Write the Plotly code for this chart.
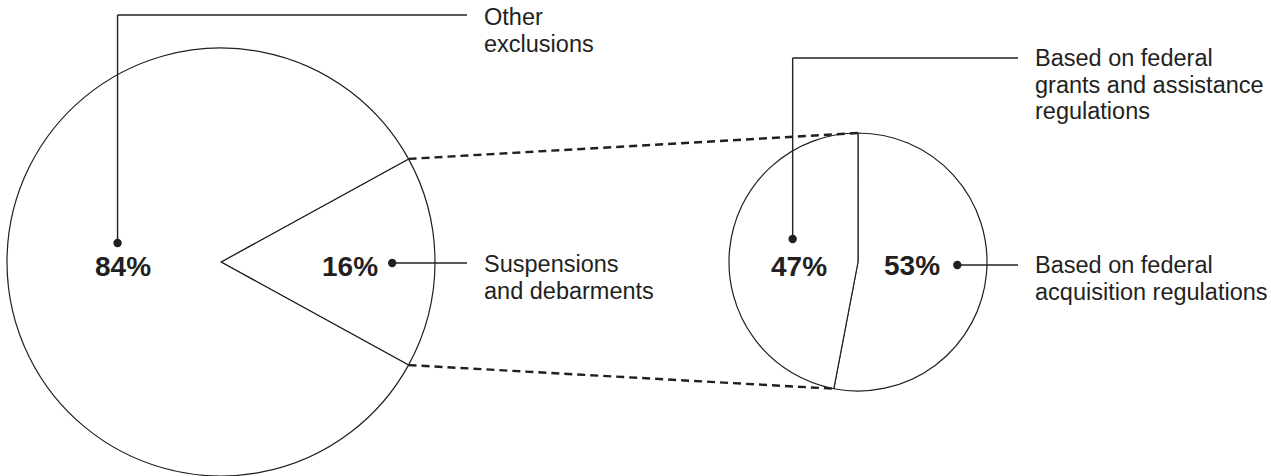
import math
import plotly.graph_objects as go

# ---------------- data ----------------
main_labels = ["Suspensions and debarments", "Other exclusions"]
main_values = [16, 84]
sub_labels = ["Based on federal acquisition regulations",
              "Based on federal grants and assistance regulations"]
sub_values = [53, 47]

main_label_lines = [["Suspensions", "and debarments"], ["Other", "exclusions"]]
sub_label_lines = [["Based on federal", "acquisition regulations"],
                   ["Based on federal", "grants and assistance", "regulations"]]

# ---------------- layout constants (pixels) ----------------
W, H = 1271, 476
BIG = dict(cx=221, cy=262, r=214)
SMALL = dict(cx=858, cy=262, r=129)
INK = "#231f20"
FONT = "Liberation Sans, Arial, Helvetica, sans-serif"
LABEL_SIZE = 23.5
PCT_SIZE = 28
LINE_GAP = 26.5
TEXT_X_LEFT = 482      # label column for left pie
TEXT_X_RIGHT = 1033    # label column for right pie


def px(x):
    return x / W


def py(y):
    return 1 - y / H


def domain(g):
    return dict(x=[px(g["cx"] - g["r"]), px(g["cx"] + g["r"])],
                y=[py(g["cy"] + g["r"]), py(g["cy"] - g["r"])])


def boundary_angles(values, rotation):
    tot = sum(values)
    angs, acc = [rotation], 0
    for v in values:
        acc += v
        angs.append(rotation + acc / tot * 360)
    return angs


def point(g, theta):
    t = math.radians(theta)
    return g["cx"] + g["r"] * math.sin(t), g["cy"] - g["r"] * math.cos(t)


big_rot = 90 - main_values[0] / sum(main_values) * 360 / 2
small_rot = 0

fig = go.Figure()
fig.add_trace(go.Pie(values=main_values, labels=main_labels, sort=False,
                     direction="clockwise", rotation=big_rot,
                     marker=dict(colors=["white", "white"], line=dict(color=INK, width=1.2)),
                     textinfo="none", hoverinfo="label+percent",
                     domain=domain(BIG), showlegend=False))
fig.add_trace(go.Pie(values=sub_values, labels=sub_labels, sort=False,
                     direction="clockwise", rotation=small_rot,
                     marker=dict(colors=["white", "white"], line=dict(color=INK, width=1.2)),
                     textinfo="none", hoverinfo="label+percent",
                     domain=domain(SMALL), showlegend=False))

shapes, annotations = [], []


def line(x0, y0, x1, y1, width=1.4, dash=None):
    d = dict(type="line", xref="paper", yref="paper", x0=px(x0), y0=py(y0),
             x1=px(x1), y1=py(y1), line=dict(color=INK, width=width), layer="above")
    if dash:
        d["line"]["dash"] = dash
    shapes.append(d)


def dot(x, y, rad=4.2):
    shapes.append(dict(type="circle", xref="paper", yref="paper",
                       x0=px(x - rad), x1=px(x + rad), y0=py(y + rad), y1=py(y - rad),
                       fillcolor=INK, line=dict(color=INK, width=0), layer="above"))


def text(x, y, s, size, anchor="left", bold=False):
    annotations.append(dict(xref="paper", yref="paper", x=px(x), y=py(y),
                            text=f"<b>{s}</b>" if bold else s, showarrow=False,
                            xanchor=anchor, yanchor="middle",
                            font=dict(family=FONT, size=size, color=INK)))


def label_block(x, y_first, lines):
    for i, s in enumerate(lines):
        text(x, y_first + i * LINE_GAP, s, LABEL_SIZE)


# dashed connectors between slice boundaries
bang = boundary_angles(main_values, big_rot)
sang = boundary_angles(sub_values, small_rot)
for bt, st in [(bang[0], sang[0]), (bang[1], sang[1])]:
    x0, y0 = point(BIG, bt)
    x1, y1 = point(SMALL, st)
    line(x0, y0, x1, y1, width=2.4, dash="8px,5px")

pct_y = BIG["cy"] + 4

# Left pie: 16% slice (right side)
d16 = (BIG["cx"] + 0.80 * BIG["r"], BIG["cy"] + 1)
text(d16[0] - 12, pct_y, f"{main_values[0]}%", PCT_SIZE, anchor="right", bold=True)
dot(*d16)
line(d16[0], d16[1], TEXT_X_LEFT - 15, d16[1])
label_block(TEXT_X_LEFT, d16[1] + 1, main_label_lines[0])

# Left pie: 84% slice
c84 = BIG["cx"] - 0.46 * BIG["r"]
text(c84, pct_y, f"{main_values[1]}%", PCT_SIZE, anchor="center", bold=True)
d84 = (c84 - 5, 243)
dot(*d84)
top84 = 15
line(d84[0], d84[1], d84[0], top84)
line(d84[0], top84, TEXT_X_LEFT - 15, top84)
label_block(TEXT_X_LEFT, top84 + 2.5, main_label_lines[1])

# Right pie: 53% slice
d53 = (SMALL["cx"] + 0.77 * SMALL["r"], SMALL["cy"] + 3)
text(d53[0] - 15, pct_y - 1, f"{sub_values[0]}%", PCT_SIZE, anchor="right", bold=True)
dot(*d53)
line(d53[0], d53[1], TEXT_X_RIGHT - 15, d53[1])
label_block(TEXT_X_RIGHT, d53[1], sub_label_lines[0])

# Right pie: 47% slice
c47 = SMALL["cx"] - 0.46 * SMALL["r"]
text(c47, pct_y, f"{sub_values[1]}%", PCT_SIZE, anchor="center", bold=True)
d47 = (c47 - 6, 239)
dot(*d47)
top47 = 58
line(d47[0], d47[1], d47[0], top47)
line(d47[0], top47, TEXT_X_RIGHT - 15, top47)
label_block(TEXT_X_RIGHT, top47, sub_label_lines[1])

fig.update_layout(width=W, height=H, margin=dict(l=0, r=0, t=0, b=0),
                  paper_bgcolor="white", plot_bgcolor="white",
                  shapes=shapes, annotations=annotations, showlegend=False)

fig.write_html("out.html", config={"displayModeBar": False},
               post_script="document.body.style.margin='0';document.body.style.overflow='hidden';")
